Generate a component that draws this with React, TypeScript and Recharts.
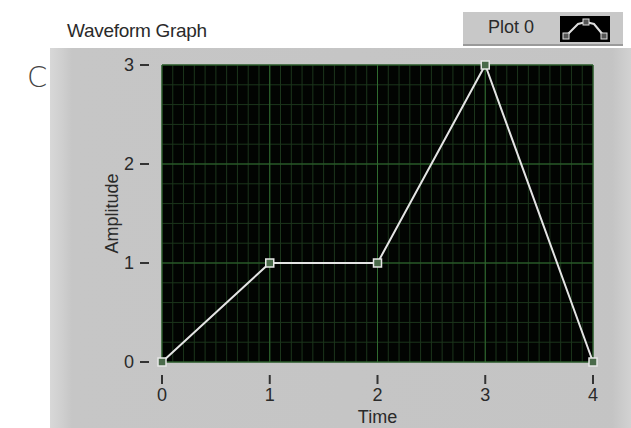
import React from 'react';
import { LineChart, Line, XAxis, YAxis, CartesianGrid } from 'recharts';

const times = [0, 1, 2, 3, 4];
const amplitudes = [0, 1, 1, 3, 0];
const xTicks = [0, 1, 2, 3, 4];
const yTicks = [0, 1, 2, 3];
// minor grid divisions: 0.1 on time, 0.2 on amplitude
const xMinor = Array.from({ length: 41 }, (_, i) => i / 10);
const yMinor = Array.from({ length: 16 }, (_, i) => i / 5);

const data = times.map((t, i) => ({ time: t, amp: amplitudes[i] }));

const FONT = '"Liberation Sans", Arial, sans-serif';
const TEXT = '#2a2a2a';

const scaleOf = (axis: any, v: number) => {
  const s = axis?.scale;
  if (!s) return 0;
  return typeof s === 'function' ? s(v) : s.map(v);
};

const YTick = (props: any) => {
  const { x, y, payload } = props;
  return (
    <g>
      <text x={x - 20} y={y} dy={6} textAnchor="end" fontSize={18} fill={TEXT} fontFamily={FONT}>
        {payload.value}
      </text>
      <line x1={x - 14} x2={x - 5} y1={y} y2={y} stroke="#333" strokeWidth={2} />
    </g>
  );
};

const XTick = (props: any) => {
  const { x, y, payload } = props;
  return (
    <g>
      <line x1={x} x2={x} y1={y + 5} y2={y + 14} stroke="#333" strokeWidth={2} />
      <text x={x} y={y + 31} textAnchor="middle" fontSize={18} fill={TEXT} fontFamily={FONT}>
        {payload.value}
      </text>
    </g>
  );
};

const SquareDot = (props: any) => {
  const { cx, cy, index } = props;
  return <rect key={index} x={cx - 4} y={cy - 4} width={8} height={8} fill="#4a6a4a" stroke="#e6e6e6" strokeWidth={1.5} />;
};

export default function App() {
  return (
    <div style={{ position: 'absolute', left: 0, top: 0, width: 631, height: 428, background: '#fff', overflow: 'hidden', fontFamily: FONT }}>
      {/* grey graph frame */}
      <div style={{ position: 'absolute', left: 50, top: 48, width: 581, height: 380, background: 'linear-gradient(to right, #d8d8d8 0px, #cfcfcf 12px, #c6c6c6 22px, #c4c4c4 100%)' }} />
      <div style={{ position: 'absolute', left: 612, top: 48, width: 19, height: 380, background: 'linear-gradient(to right, #c4c4c4, #d2d2d2)' }} />
      <div style={{ position: 'absolute', left: 27, top: 60, fontSize: 29, color: '#444', fontWeight: 300, fontFamily: '"DejaVu Sans", sans-serif' }}>C</div>
      <div style={{ position: 'absolute', left: 67, top: 20, fontSize: 19, color: TEXT, letterSpacing: -0.3 }}>Waveform Graph</div>
      {/* plot legend */}
      <div style={{ position: 'absolute', left: 463, top: 12, width: 160, height: 34, background: '#c8c8c8', borderBottom: '2px solid #9a9a9a', boxSizing: 'border-box' }}>
        <div style={{ position: 'absolute', left: 25, top: 5, fontSize: 18, color: TEXT }}>Plot 0</div>
        <svg style={{ position: 'absolute', left: 97, top: 4 }} width={50} height={26}>
          <rect x={0} y={0} width={50} height={26} fill="#000" />
          <polyline points="6,20 18,8 26,6 34,8 44,20" fill="none" stroke="#ddd" strokeWidth={2} />
          <rect x={3} y={17} width={6} height={6} fill="#555" stroke="#ddd" />
          <rect x={23} y={3} width={6} height={6} fill="#555" stroke="#ddd" />
          <rect x={41} y={17} width={6} height={6} fill="#555" stroke="#ddd" />
        </svg>
      </div>
      <div style={{ position: 'absolute', left: 0, top: 0 }}>
        <LineChart width={631} height={428} data={data} margin={{ top: 65, right: 38, left: 112, bottom: 0 }}>
          <CartesianGrid
            stroke="#1c361c"
            strokeWidth={1}
            fill="#020402"
            fillOpacity={1}
            verticalCoordinatesGenerator={({ xAxis }: any) => xMinor.map((v) => scaleOf(xAxis, v))}
            horizontalCoordinatesGenerator={({ yAxis }: any) => yMinor.map((v) => scaleOf(yAxis, v))}
          />
          <XAxis
            dataKey="time"
            type="number"
            domain={[0, 4]}
            ticks={xTicks}
            height={66}
            axisLine={false}
            tickLine={false}
            tick={<XTick />}
            label={{ value: 'Time', position: 'insideBottom', offset: 5, fontSize: 18, fill: TEXT, fontFamily: FONT }}
          />
          <YAxis
            type="number"
            domain={[0, 3]}
            ticks={yTicks}
            width={50}
            axisLine={false}
            tickLine={false}
            tick={<YTick />}
            label={{ value: 'Amplitude', angle: -90, position: 'insideLeft', offset: 0, fontSize: 18, fill: TEXT, fontFamily: FONT, style: { textAnchor: 'middle' } }}
          />
          <CartesianGrid stroke="#2f6a2f" strokeWidth={1} fill="none" />
          <Line
            dataKey="amp"
            type="linear"
            stroke="#e4e4e4"
            strokeWidth={2}
            dot={<SquareDot />}
            activeDot={false}
            isAnimationActive={false}
          />
        </LineChart>
      </div>
    </div>
  );
}
